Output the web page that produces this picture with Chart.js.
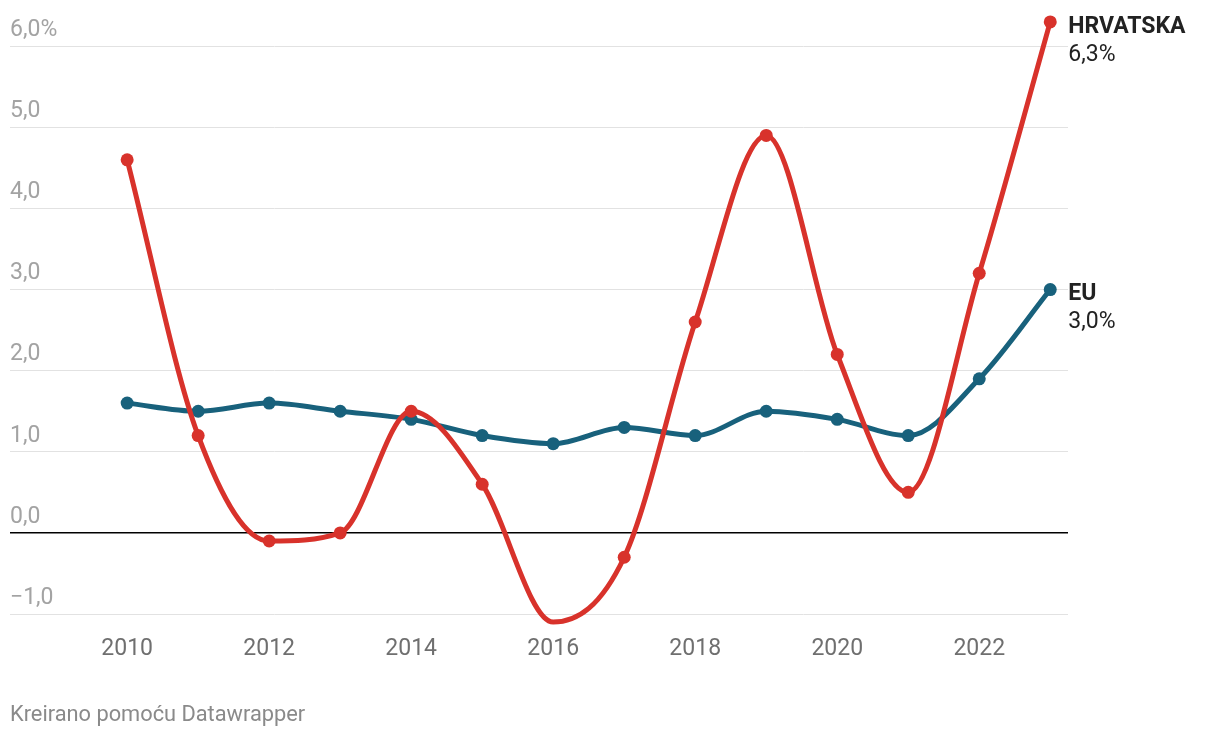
<!DOCTYPE html>
<html>
<head>
<meta charset="utf-8">
<script src="https://cdn.jsdelivr.net/npm/chart.js@4/dist/chart.umd.min.js"></script>
<style>
  html, body { margin: 0; padding: 0; background: #fff; }
  #wrap { position: relative; width: 1220px; height: 738px; }
  #footer {
    position: absolute; left: 10px; top: 701px;
    font-family: Roboto, sans-serif; font-size: 21.8px; color: #8a8a8a;
  }
</style>
</head>
<body>
<div id="wrap">
  <canvas id="c" width="1220" height="738"></canvas>
  <div id="footer">Kreirano pomoću Datawrapper</div>
</div>
<script>
var years = [2010, 2011, 2012, 2013, 2014, 2015, 2016, 2017, 2018, 2019, 2020, 2021, 2022, 2023];
var hrvatska = [4.6, 1.2, -0.1, 0.0, 1.5, 0.6, -1.1, -0.3, 2.6, 4.9, 2.2, 0.5, 3.2, 6.3];
var eu = [1.6, 1.5, 1.6, 1.5, 1.4, 1.2, 1.1, 1.3, 1.2, 1.5, 1.4, 1.2, 1.9, 3.0];
var xTicks = [2010, 2012, 2014, 2016, 2018, 2020, 2022];
var yTicks = [-1, 0, 1, 2, 3, 4, 5, 6];
var seriesNames = ['HRVATSKA', 'EU'];

var red = '#d8322b';
var blue = '#18617c';

function fmt(v) {
  var s = Math.abs(v).toFixed(1).replace('.', ',');
  return (v < 0 ? '\u2212' : '') + s;
}

var endLabels = {
  id: 'endLabels',
  afterDatasetsDraw: function(chart) {
    var ctx = chart.ctx;
    ctx.save();
    chart.data.datasets.forEach(function(ds, i) {
      var meta = chart.getDatasetMeta(i);
      var pt = meta.data[meta.data.length - 1];
      var val = ds.data[ds.data.length - 1];
      ctx.fillStyle = '#222';
      ctx.textAlign = 'left';
      ctx.textBaseline = 'middle';
      ctx.font = 'bold 23px Roboto';
      ctx.fillText(seriesNames[i], pt.x + 18, pt.y + 5);
      ctx.font = '23px Roboto';
      ctx.fillText(fmt(val.y) + '%', pt.x + 18, pt.y + 33);
    });
    ctx.restore();
  }
};

function toPoints(arr) {
  return arr.map(function(v, i) { return { x: years[i], y: v }; });
}

var ctx = document.getElementById('c').getContext('2d');
new Chart(ctx, {
  type: 'line',
  data: {
    datasets: [
      {
        label: seriesNames[0],
        data: toPoints(hrvatska),
        borderColor: red,
        backgroundColor: red,
        borderWidth: 5,
        pointRadius: 6.5,
        pointBorderWidth: 0,
        cubicInterpolationMode: 'monotone',
        clip: false
      },
      {
        label: seriesNames[1],
        data: toPoints(eu),
        borderColor: blue,
        backgroundColor: blue,
        borderWidth: 5,
        pointRadius: 6.5,
        pointBorderWidth: 0,
        cubicInterpolationMode: 'monotone',
        clip: false
      }
    ]
  },
  options: {
    responsive: false,
    animation: false,
    // max 6.4 keeps the 6,3 end point inside the area; 6,0 still lands at y=46
    layout: { padding: { left: 10, right: 152, top: 13.5, bottom: 0 } },
    plugins: {
      legend: { display: false },
      tooltip: { enabled: false }
    },
    scales: {
      x: {
        type: 'linear',
        min: 2008.35,
        max: 2023.25,
        afterBuildTicks: function(scale) {
          scale.ticks = xTicks.map(function(v) { return { value: v }; });
        },
        afterFit: function(scale) { scale.height = 124; },
        grid: { display: false, drawTicks: false },
        border: { display: false },
        ticks: {
          padding: 21,
          color: '#6f6f6f',
          font: { family: 'Roboto', size: 23 },
          maxRotation: 0,
          callback: function(v) { return String(v); }
        }
      },
      y: {
        min: -1,
        max: 6.4,
        afterBuildTicks: function(scale) {
          scale.ticks = yTicks.map(function(v) { return { value: v }; });
        },
        afterFit: function(scale) { scale.width = 0; },
        grid: {
          drawTicks: false,
          color: function(c) { return c.tick && c.tick.value === 0 ? '#000' : '#e2e2e2'; },
          lineWidth: function(c) { return c.tick && c.tick.value === 0 ? 1.5 : 1; }
        },
        border: { display: false },
        ticks: {
          mirror: true,
          padding: 0,
          labelOffset: -16,
          color: '#a3a3a3',
          font: { family: 'Roboto', size: 23 },
          callback: function(v) { return fmt(v) + (v === 6 ? '%' : ''); }
        }
      }
    }
  },
  plugins: [endLabels]
});
</script>
</body>
</html>
